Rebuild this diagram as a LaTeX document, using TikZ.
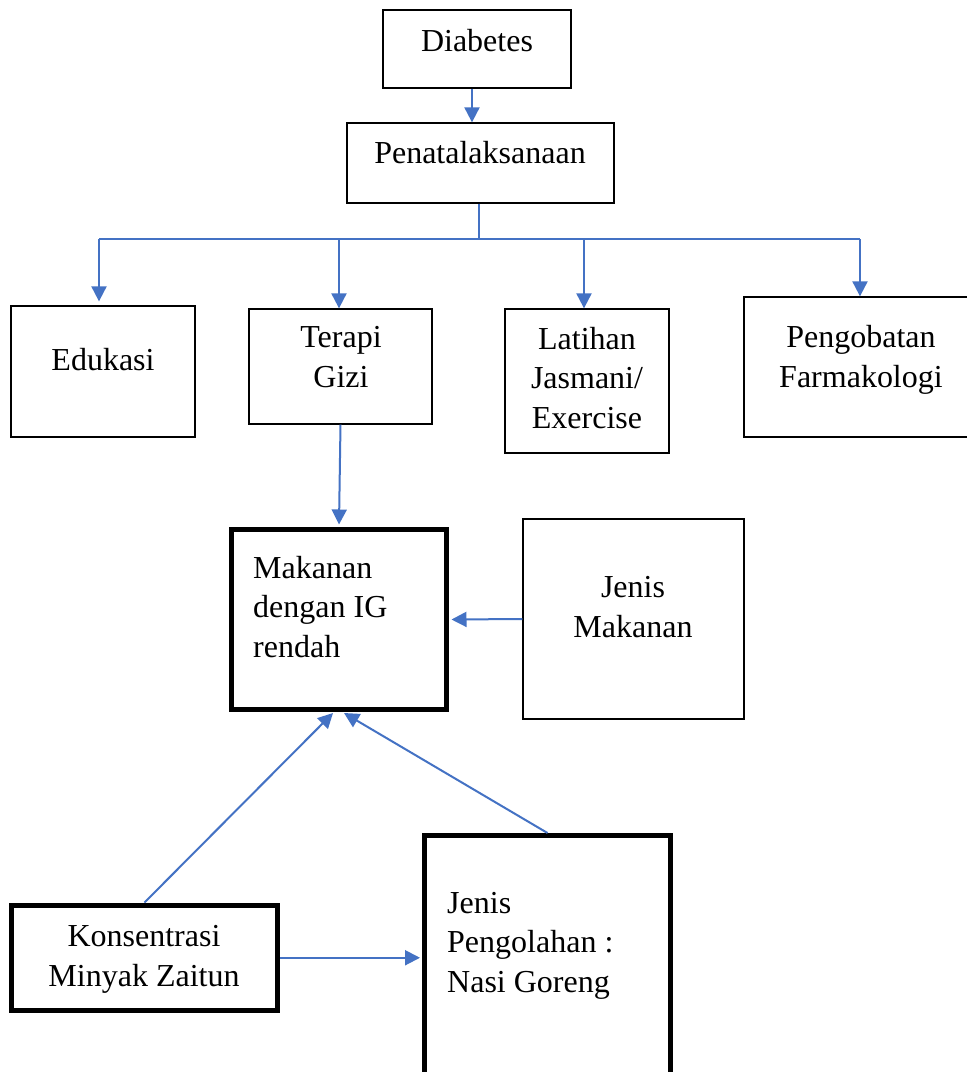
\documentclass[tikz,border=0pt]{standalone}
\usepackage{fontspec}
\setmainfont{Liberation Serif}
\usetikzlibrary{arrows.meta}
\definecolor{wordblue}{HTML}{4472C4}
\tikzset{
  box/.style={draw=black, line width=1.3pt, rectangle, inner sep=0pt},
  thickbox/.style={draw=black, line width=5pt, rectangle, inner sep=0pt},
  txt/.style={inner sep=0pt, font=\fontsize{32}{39.5}\selectfont, align=center, anchor=base},
  ltxt/.style={inner sep=0pt, font=\fontsize{32}{39.5}\selectfont, align=left, anchor=base west},
  conn/.style={draw=wordblue, line width=1.6pt},
  arr/.style={draw=wordblue, line width=2pt, -{Triangle[width=15pt,length=15pt]}}
}
\begin{document}
\begin{tikzpicture}[x=1pt,y=-1pt]
\useasboundingbox (0,0) rectangle (967,1072);
\fill[white] (0,0) rectangle (967,1072);
\clip (0,0) rectangle (967,1072);

% boxes
\node[box, minimum width=188pt, minimum height=78pt] (diab) at (477,49) {};
\node[box, minimum width=267pt, minimum height=80pt] (pen) at (480.5,163) {};
\node[box, minimum width=184pt, minimum height=131pt] (edu) at (103,371.5) {};
\node[box, minimum width=183pt, minimum height=115pt] (ter) at (340.5,366.5) {};
\node[box, minimum width=164pt, minimum height=144pt] (lat) at (587,381) {};
\node[box, minimum width=228pt, minimum height=140pt] (peng) at (858,367) {};
\node[thickbox, minimum width=215pt, minimum height=180pt] (mak) at (339,619.5) {};
\node[box, minimum width=221pt, minimum height=200pt] (jm) at (633.5,619) {};
\node[thickbox, minimum width=266pt, minimum height=105.5pt] (kon) at (144.5,957.75) {};
\node[thickbox, minimum width=246pt, minimum height=254.5pt] (jp) at (547.5,962.75) {};

% texts (anchored at the baseline of the last line)
\node[txt] (tdiab) at (477,51) {Diabetes};
\node[txt] (tpen) at (480,163) {Penatalaksanaan};
\node[txt] (tedu) at (103,370) {Edukasi};
\node[txt] (tter) at (341,387) {Terapi\\Gizi};
\node[txt] (tlat) at (587,428) {Latihan\\Jasmani/\\Exercise};
\node[txt] (tpeng) at (861,387) {Pengobatan\\Farmakologi};
\node[ltxt] (tmak) at (253,657) {Makanan\\dengan IG\\rendah};
\node[txt] (tjm) at (633,637) {Jenis\\Makanan};
\node[txt] (tkon) at (144,986) {Konsentrasi\\Minyak Zaitun};
\node[ltxt] (tjp) at (447,992) {Jenis\\Pengolahan :\\Nasi Goreng};

% connectors
\draw[arr] ([xshift=-5pt]diab.south) -- ([xshift=-5pt]diab.south |- pen.north);
\coordinate (b1) at (99,239);
\coordinate (b2) at (339,239);
\coordinate (b3) at (584,239);
\coordinate (b4) at (860,239);
\draw[conn] ([xshift=-1.5pt]pen.south) -- ([xshift=-1.5pt]pen.south |- b1);
\draw[conn] (b1) -- (b4);
\draw[arr, shorten >=4pt] (b1) -- (b1 |- edu.north);
\draw[arr] (b2) -- (b2 |- ter.north);
\draw[arr] (b3) -- (b3 |- lat.north);
\draw[arr] (b4) -- (b4 |- peng.north);

\draw[arr] (ter.south) -- ([yshift=2.5pt]mak.north);
\draw[arr] (jm.west) -- ([xshift=2.5pt]mak.east);
\draw[arr] (kon.north) -- ([xshift=-6pt,yshift=-1pt]mak.south);
\draw[arr] (jp.north) -- ([xshift=5pt,yshift=-1pt]mak.south);
\draw[arr, shorten >=2pt] (kon.east) -- (kon.east -| jp.west);
\end{tikzpicture}
\end{document}
